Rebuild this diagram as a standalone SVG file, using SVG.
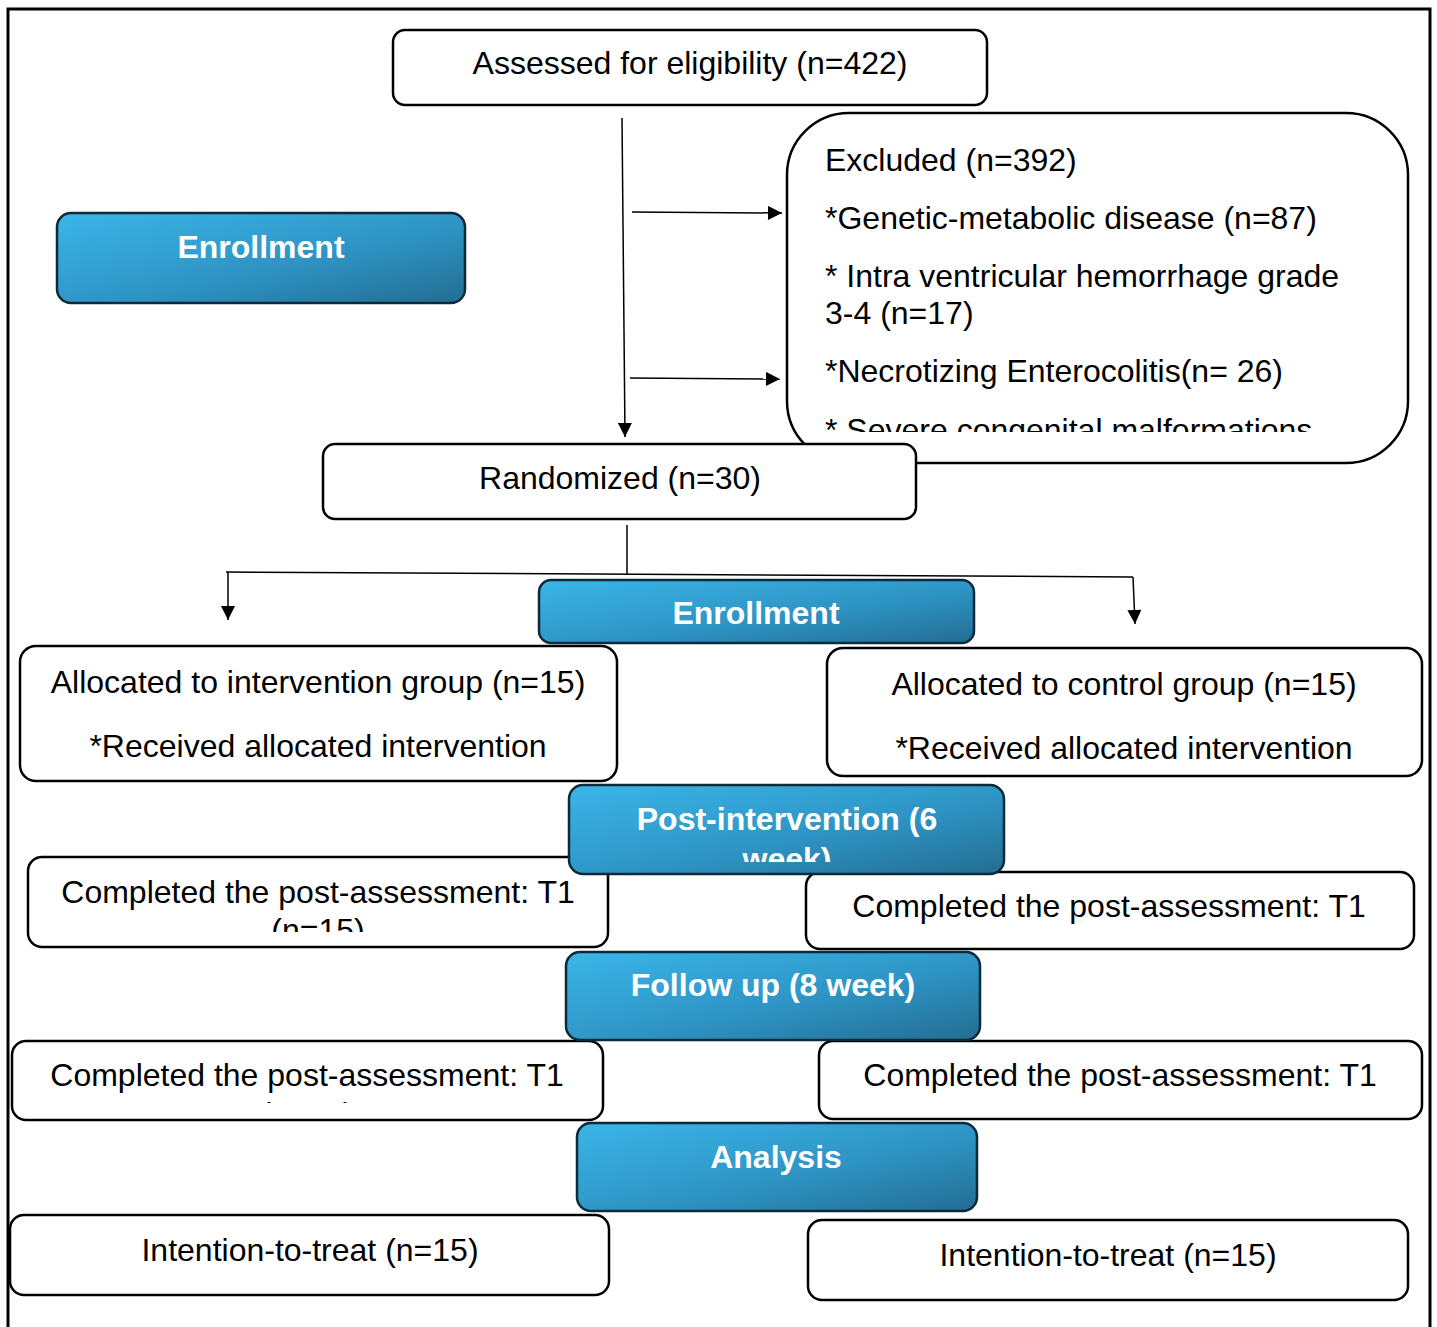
<svg xmlns="http://www.w3.org/2000/svg" width="1437" height="1327" viewBox="0 0 1437 1327">
<style>
.box{fill:#fff;stroke:#000;stroke-width:2.5}
.hdr{stroke:#0d2a3a;stroke-width:2.5}
.t{font-family:"Liberation Sans",Arial,sans-serif;font-size:32px;fill:#000}
.c{text-anchor:middle}
.h{font-family:"Liberation Sans",Arial,sans-serif;font-size:32px;font-weight:bold;fill:#fff;text-anchor:middle}
.ln{stroke:#000;stroke-width:1.5;fill:none}
</style>
<defs>
<linearGradient id="g" x1="0" y1="0" x2="1" y2="1">
<stop offset="0" stop-color="#3bb5e8"/>
<stop offset="0.55" stop-color="#2e95c6"/>
<stop offset="1" stop-color="#236d92"/>
</linearGradient>
<marker id="ahb" viewBox="0 0 10 10" refX="10" refY="5" markerWidth="16" markerHeight="14" markerUnits="userSpaceOnUse" orient="auto">
<path d="M0,0 L10,5 L0,10 z" fill="#000"/>
</marker>
<clipPath id="cEx"><rect x="787" y="113" width="621" height="319"/></clipPath>
<clipPath id="cPI"><rect x="569" y="785" width="435" height="77"/></clipPath>
<clipPath id="cL1"><rect x="28" y="857" width="580" height="75"/></clipPath>
<clipPath id="cR1"><rect x="806" y="872" width="608" height="61"/></clipPath>
<clipPath id="cL2"><rect x="12" y="1041" width="591" height="62"/></clipPath>
<clipPath id="cR2"><rect x="819" y="1041" width="603" height="61"/></clipPath>
</defs>
<rect x="0" y="0" width="1437" height="1327" fill="#fff"/>
<rect x="8" y="9" width="1422" height="1340" fill="none" stroke="#000" stroke-width="3"/>

<g id="connectors">
<line class="ln" x1="622" y1="118" x2="625" y2="437" marker-end="url(#ahb)"/>
<line class="ln" x1="632" y1="212" x2="782" y2="213" marker-end="url(#ahb)"/>
<line class="ln" x1="630" y1="378" x2="780" y2="379" marker-end="url(#ahb)"/>
<line class="ln" x1="627" y1="525" x2="627" y2="575"/>
<line class="ln" x1="226" y1="572" x2="1133" y2="577"/>
<line class="ln" x1="228" y1="572" x2="228" y2="620" marker-end="url(#ahb)"/>
<line class="ln" x1="1133" y1="577" x2="1135" y2="624" marker-end="url(#ahb)"/>
</g>

<g id="assessed">
<rect class="box" x="393" y="30" width="594" height="75" rx="12"/>
<text class="t c" x="690" y="74">Assessed for eligibility (n=422)</text>
</g>

<g id="excluded">
<rect class="box" x="787" y="113" width="621" height="350" rx="62"/>
<g clip-path="url(#cEx)">
<text class="t" x="825" y="171">Excluded (n=392)</text>
<text class="t" x="825" y="229">*Genetic-metabolic disease (n=87)</text>
<text class="t" x="825" y="287">* Intra ventricular hemorrhage grade</text>
<text class="t" x="825" y="324">3-4 (n=17)</text>
<text class="t" x="825" y="382">*Necrotizing Enterocolitis(n= 26)</text>
<text class="t" x="825" y="441">* Severe congenital malformations</text>
</g>
</g>

<g id="enroll-left">
<rect class="hdr" x="57" y="213" width="408" height="90" rx="14" fill="url(#g)"/>
<text class="h" x="261" y="258">Enrollment</text>
</g>

<g id="randomized">
<rect class="box" x="323" y="444" width="593" height="75" rx="12"/>
<text class="t c" x="620" y="489">Randomized (n=30)</text>
</g>

<g id="enroll-mid">
<rect class="hdr" x="539" y="580" width="435" height="63" rx="12" fill="url(#g)"/>
<text class="h" x="756" y="624">Enrollment</text>
</g>

<g id="alloc-int">
<rect class="box" x="20" y="646" width="597" height="135" rx="16"/>
<text class="t c" x="318" y="693">Allocated to intervention group (n=15)</text>
<text class="t c" x="318" y="757">*Received allocated intervention</text>
</g>

<g id="alloc-ctl">
<rect class="box" x="827" y="648" width="595" height="128" rx="16"/>
<text class="t c" x="1124" y="695">Allocated to control group (n=15)</text>
<text class="t c" x="1124" y="759">*Received allocated intervention</text>
</g>

<g id="post-left">
<rect class="box" x="28" y="857" width="580" height="90" rx="14"/>
<g clip-path="url(#cL1)">
<text class="t c" x="318" y="903">Completed the post-assessment: T1</text>
<text class="t c" x="318" y="941">(n=15)</text>
</g>
</g>

<g id="post-right">
<rect class="box" x="806" y="872" width="608" height="77" rx="14"/>
<g clip-path="url(#cR1)">
<text class="t c" x="1109" y="917">Completed the post-assessment: T1</text>
<text class="t c" x="1109" y="956">(n=15)</text>
</g>
</g>

<g id="post-int">
<rect class="hdr" x="569" y="785" width="435" height="89" rx="14" fill="url(#g)"/>
<g clip-path="url(#cPI)">
<text class="h" x="787" y="830">Post-intervention (6</text>
<text class="h" x="787" y="870">week)</text>
</g>
</g>

<g id="follow-left">
<rect class="box" x="12" y="1041" width="591" height="79" rx="14"/>
<g clip-path="url(#cL2)">
<text class="t c" x="307" y="1086">Completed the post-assessment: T1</text>
<text class="t c" x="307" y="1125">(n=15)</text>
</g>
</g>

<g id="follow-right">
<rect class="box" x="819" y="1041" width="603" height="78" rx="14"/>
<g clip-path="url(#cR2)">
<text class="t c" x="1120" y="1086">Completed the post-assessment: T1</text>
<text class="t c" x="1120" y="1125">(n=15)</text>
</g>
</g>

<g id="follow-up">
<rect class="hdr" x="566" y="952" width="414" height="88" rx="14" fill="url(#g)"/>
<text class="h" x="773" y="996">Follow up (8 week)</text>
</g>

<g id="analysis">
<rect class="hdr" x="577" y="1123" width="400" height="88" rx="14" fill="url(#g)"/>
<text class="h" x="776" y="1168">Analysis</text>
</g>

<g id="itt-left">
<rect class="box" x="10" y="1215" width="599" height="80" rx="14"/>
<text class="t c" x="310" y="1261">Intention-to-treat (n=15)</text>
</g>

<g id="itt-right">
<rect class="box" x="808" y="1220" width="600" height="80" rx="14"/>
<text class="t c" x="1108" y="1266">Intention-to-treat (n=15)</text>
</g>
</svg>
